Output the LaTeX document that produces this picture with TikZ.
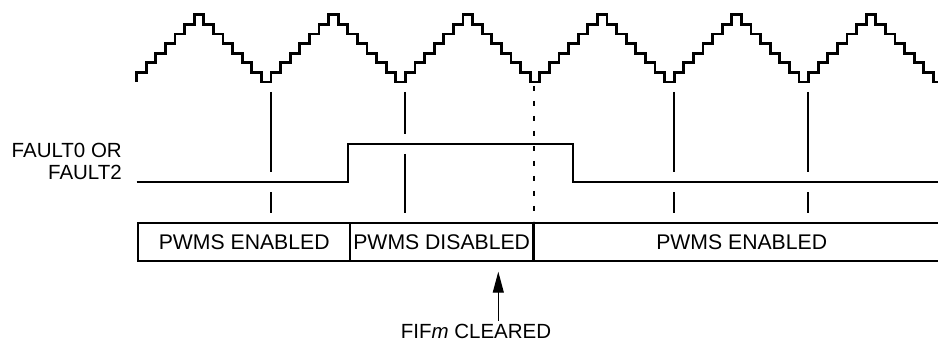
\documentclass[tikz,border=0pt]{standalone}
\usepackage{fontspec}
\setmainfont{Liberation Sans}
\usepackage{tikz}
\usetikzlibrary{positioning, arrows.meta}
\tikzstyle{stair} = [line width=2.7pt, line join=miter]
\tikzstyle{arrow} = [-{Triangle[length=21pt,width=11pt]}, line width=1.1pt]

\begin{document}
\begin{tikzpicture}[x=1pt, y=-1pt,
    every node/.style={font=\fontsize{20.5}{22.3}\selectfont, inner sep=0pt},
    signal/.style={line width=2.3pt, line join=miter},
    tick/.style={line width=1.2pt},
    phase/.style={rectangle, draw, line width=1.8pt, outer sep=0pt, minimum height=38pt, font=\fontsize{21.2}{24}\selectfont}]

    % canvas
    \fill[white, use as bounding box] (0,0) rectangle (938,342);

    % PWM counter (staircase)
    \draw[stair] (136.6,82) \foreach \p in {1,...,6} {
        \foreach \s in {1,...,7} {-- ++(0,-9.61) -- ++(9.6,0)}
        \foreach \s in {1,...,7} {-- ++(0,9.61) -- ++(9.6,0)} };

    % Fault input
    \node[anchor=east, align=right, font=\fontsize{20.5}{22.3}\selectfont] (fault) at (122,161.7) {FAULT0 OR\\FAULT2};
    \draw[signal] (136.7,182.3) -- (348.3,182.3) -- (348.3,144) -- (573.3,144) -- (573.3,182.3) -- (938,182.3);

    % Period markers
    \foreach \x in {271,674,808} {
        \draw[tick] (\x,92) -- (\x,172.5);
        \draw[tick] (\x,192.5) -- (\x,213);
    }
    \draw[tick] (405,92) -- (405,134);
    \draw[tick] (405,154) -- (405,213);
    \draw[tick, dash pattern=on 5pt off 10pt] (534,86) -- (534,221);

    % PWM state
    \node[phase, minimum width=211.7pt] (en1) at (244.2,242) {PWMS ENABLED};
    \node[phase, minimum width=183.3pt, right=0pt of en1] (dis) {PWMS DISABLED};
    \node[phase, minimum width=416.7pt, right=0pt of dis] (en2) {PWMS ENABLED};
    \draw[line width=3.5pt] (dis.north east) -- (dis.south east);

    % Flag clear
    \node[anchor=base, inner ysep=3pt] (fifm) at (476,338.3) {FIF\textit{m} CLEARED};
    \coordinate (tip) at (498.3,271.7);
    \draw[arrow] (fifm.north -| tip) -- (tip);

\end{tikzpicture}
\end{document}
